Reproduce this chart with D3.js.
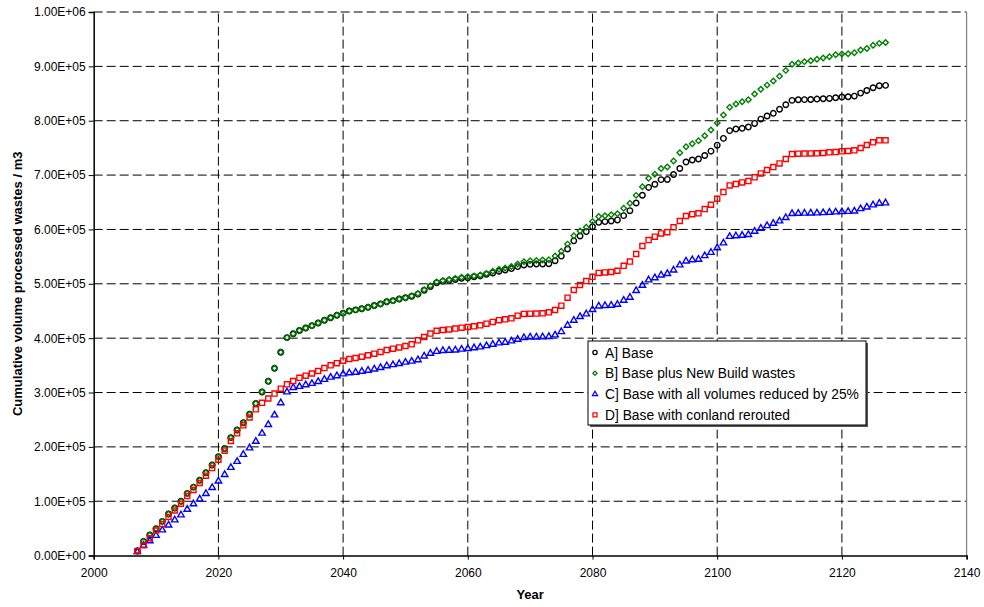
<!DOCTYPE html>
<html>
<head>
<meta charset="utf-8">
<script src="https://cdn.jsdelivr.net/npm/d3@7"></script>
<style>
  body { margin: 0; background: #fff; }
  svg { font-family: "Liberation Sans", Arial, sans-serif; }
  .tick text { font-size: 12px; fill: #000; }
</style>
</head>
<body>
<div id="chart"></div>
<script>
// values in thousands of m3, one per year 2007..2127
const years = d3.range(2007, 2128);

const seriesA = [8.5, 26, 38, 49.5, 63, 76.5, 87.5, 100, 114.5, 126, 138.5, 152.5, 166.7, 182, 197, 217, 231, 244.5, 260, 280, 301, 320.6, 344.5, 374, 401,
  408, 414, 418.7, 423, 428, 433, 437.6, 442, 446, 450, 452, 454, 456.7, 460, 463, 467, 469, 472, 474.5, 477, 481, 488, 495, 502,
  504.5, 506.3, 508, 510, 511, 513, 514.5, 517.5, 520, 523, 525.4, 528, 531.6, 534.6, 535.8, 536.5, 536.5, 537, 542.5, 551, 564, 579, 588, 596, 605,
  613, 614.4, 615.6, 617.5, 625.4, 634.5, 648.6, 663, 677.3, 683, 691.6, 692, 701, 712, 724, 727.7, 729.5, 736, 744, 755, 767.5, 781.7, 784.7, 786, 788.5,
  795, 803, 808.7, 813.6, 821, 829.4, 837.4, 838.6, 838.8, 839, 839.8, 840.4, 841, 842.3, 843.5, 844, 845.3, 850.8, 855.7, 860.6, 864.3, 865];

const seriesB = [9, 26.3, 38, 49.5, 63, 76.5, 87.5, 100, 114.5, 126, 138.5, 152.5, 166.7, 182, 197, 217, 231, 244.5, 260, 280, 301, 320.6, 344.5, 374, 401,
  408, 414, 418.7, 423, 428, 433, 437.6, 442, 446, 450, 452, 454, 456.7, 460, 463, 467, 469, 472, 474.5, 477.6, 482, 489, 496.6, 503.5,
  506, 508, 510, 512, 513, 514.5, 516, 519, 523, 526.7, 529, 532, 536.5, 540.7, 542.5, 542.8, 543.7, 544.4, 551, 560, 573, 588.5, 597, 604, 614.5,
  624, 625, 627, 629, 639, 648, 662.7, 678.7, 694, 701.5, 712, 715, 726, 741, 752, 757.7, 763, 772.5, 783, 795.7, 810.5, 824.7, 830.8, 835, 838.5,
  849, 858, 865.5, 873, 882, 892.6, 903.7, 906, 908.7, 910.5, 913, 915.4, 917.8, 921.4, 922.6, 923.3, 925, 930, 933, 939, 942.3, 944];

const seriesC = [7, 19, 27, 37, 47, 56, 65.5, 74.7, 85, 95, 104, 114, 125, 137, 149, 162, 173, 186, 198, 210, 225, 241, 258.6, 281, 301,
  309, 311, 314, 316.5, 320, 324, 328, 330.6, 334, 336, 337, 339, 340.8, 343, 345.8, 349, 351, 353, 355.6, 357.5, 360, 367, 372, 375.5,
  377, 377.5, 378, 379.5, 380.7, 382, 383.7, 386, 388.6, 391, 392.3, 394.7, 397.8, 400.8, 402, 402, 402.2, 402.7, 405.8, 411.8, 423.6, 432.8, 439.5, 444.5, 452.5,
  459, 459.8, 460.4, 462, 469.6, 475, 487.4, 497, 507, 511, 516, 518.6, 525, 534.5, 541.7, 544, 544.8, 551.5, 557.6, 566, 575, 587, 588, 589, 590.5,
  596.5, 602, 606.8, 611, 615.5, 621.6, 629, 629.6, 629.8, 630, 630.2, 630.6, 631.3, 632, 632.5, 633, 633.8, 638, 641, 645, 648, 648.7];

const seriesD = [8.5, 19, 32, 46, 58, 71, 83, 95.5, 109.6, 120.7, 133.6, 147, 161, 176.5, 193, 211, 225, 239.6, 254, 269, 281, 289, 298, 307, 315,
  321, 327, 331, 335, 339.6, 345, 350, 354, 358.6, 361.7, 363.5, 366, 368.6, 371.5, 374.6, 378, 380.6, 383, 385.6, 388.7, 396, 402, 408.5, 413.5,
  415, 416, 417.6, 419.3, 420.5, 421.8, 423.6, 426.7, 429.8, 433, 434.6, 436.4, 441.4, 444.5, 445, 445.2, 445.7, 447.6, 451.8, 459.8, 474.5, 488.6, 497.8, 505, 512.8,
  520, 521, 521.7, 524, 533, 540.8, 554.8, 569.5, 580.5, 586.6, 592.7, 595, 603.8, 615.5, 624.7, 628, 629.6, 637.5, 645.4, 656.5, 668.8, 681, 683.4, 686.5, 689,
  695.8, 703, 709.3, 714.8, 721.5, 729.6, 738.7, 739.3, 739.5, 739.8, 740, 740.6, 741.8, 742.4, 743.7, 744.3, 745.5, 749.8, 755.3, 760.2, 764, 764];

const seriesNames = ["A] Base", "B] Base plus New Build wastes",
  "C] Base with all volumes reduced by 25%", "D] Base with conland rerouted"];
const xTicks = [2000, 2020, 2040, 2060, 2080, 2100, 2120, 2140];
const yTicks = [0, 1e5, 2e5, 3e5, 4e5, 5e5, 6e5, 7e5, 8e5, 9e5, 1e6];

const W = 984, H = 607;
const margin = {left: 93.7, right: 17.4, top: 12, bottom: 51.4};

const svg = d3.select('#chart').append('svg')
  .attr('width', W).attr('height', H);

const x = d3.scaleLinear().domain([2000, 2140]).range([margin.left, W - margin.right]);
const y = d3.scaleLinear().domain([0, 1e6]).range([H - margin.bottom, margin.top]);

//Excel style scientific labels, e.g. 1.00E+06
const sci = function (v) {
  if (v === 0) return '0.00E+00';
  const e = Math.floor(Math.log10(v));
  return (v / Math.pow(10, e)).toFixed(2) + 'E+' + String(e).padStart(2, '0');
};

//grid
const grid = svg.append('g');
grid.selectAll('line.h').data(yTicks.slice(1))
  .enter().append('line')
  .attr('x1', x(2000)).attr('x2', x(2140))
  .attr('y1', d => y(d)).attr('y2', d => y(d))
  .attr('stroke', '#000').attr('stroke-width', 1)
  .attr('stroke-dasharray', '9,4');
grid.selectAll('line.v').data(xTicks.slice(1, -1))
  .enter().append('line')
  .attr('x1', d => x(d)).attr('x2', d => x(d))
  .attr('y1', y(0)).attr('y2', y(1e6))
  .attr('stroke', '#000').attr('stroke-width', 1)
  .attr('stroke-dasharray', '9,4');
svg.append('line')
  .attr('x1', x(2140)).attr('x2', x(2140))
  .attr('y1', y(0)).attr('y2', y(1e6))
  .attr('stroke', '#808080').attr('stroke-width', 1.2);

//axes
const yAxis = svg.append('g')
  .attr('transform', 'translate(' + x(2000) + ',0)')
  .call(d3.axisLeft(y).tickValues(yTicks).tickSize(5).tickPadding(3).tickFormat(sci));
const xAxis = svg.append('g')
  .attr('transform', 'translate(0,' + y(0) + ')')
  .call(d3.axisBottom(x).tickValues(xTicks).tickSize(4).tickPadding(9).tickFormat(d3.format('d')));
[xAxis, yAxis].forEach(function (a) {
  a.select('.domain').attr('stroke', '#000').attr('stroke-width', 1.5);
  a.selectAll('.tick line').attr('stroke', '#000');
});

//titles
svg.append('text')
  .attr('x', x(2070)).attr('y', 599)
  .attr('text-anchor', 'middle')
  .attr('font-size', 13).attr('font-weight', 'bold')
  .text('Year');
svg.append('text')
  .attr('transform', 'translate(22,' + ((y(0) + y(1e6)) / 2) + ') rotate(-90)')
  .attr('text-anchor', 'middle')
  .attr('font-size', 13).attr('font-weight', 'bold')
  .text('Cumulative volume processed wastes / m3');

//series
const styles = [
  {data: seriesA, color: '#000000', type: d3.symbolCircle, size: 24, rot: 0},
  {data: seriesB, color: '#008000', type: d3.symbolSquare, size: 15, rot: 45},
  {data: seriesC, color: '#0000ff', type: d3.symbolTriangle, size: 18, rot: 0},
  {data: seriesD, color: '#ff0000', type: d3.symbolSquare, size: 26, rot: 0}
];

styles.forEach(function (s) {
  svg.append('g')
    .selectAll('path')
    .data(s.data)
    .enter().append('path')
    .attr('d', d3.symbol().type(s.type).size(s.size))
    .attr('transform', (d, i) => 'translate(' + x(years[i]) + ',' + y(d * 1000) + ') rotate(' + s.rot + ')')
    .attr('fill', 'none')
    .attr('stroke', s.color)
    .attr('stroke-width', 1.4);
});

//legend
const lg = svg.append('g').attr('transform', 'translate(588,341)');
lg.append('rect').attr('x', 2).attr('y', 2).attr('width', 278).attr('height', 84).attr('fill', '#555');
lg.append('rect').attr('width', 278).attr('height', 84)
  .attr('fill', '#fff').attr('stroke', '#000').attr('stroke-width', 1);
const rows = lg.selectAll('g.row').data(styles)
  .enter().append('g')
  .attr('transform', (d, i) => 'translate(0,' + (11.5 + i * 20.8) + ')');
rows.append('path')
  .attr('d', d => d3.symbol().type(d.type).size(d.size * 0.6)())
  .attr('transform', d => 'translate(7,0) rotate(' + d.rot + ')')
  .attr('fill', 'none').attr('stroke', d => d.color).attr('stroke-width', 1.3);
rows.append('text')
  .attr('x', 17).attr('y', 5)
  .attr('font-size', 13.8)
  .text((d, i) => seriesNames[i]);
</script>
</body>
</html>
